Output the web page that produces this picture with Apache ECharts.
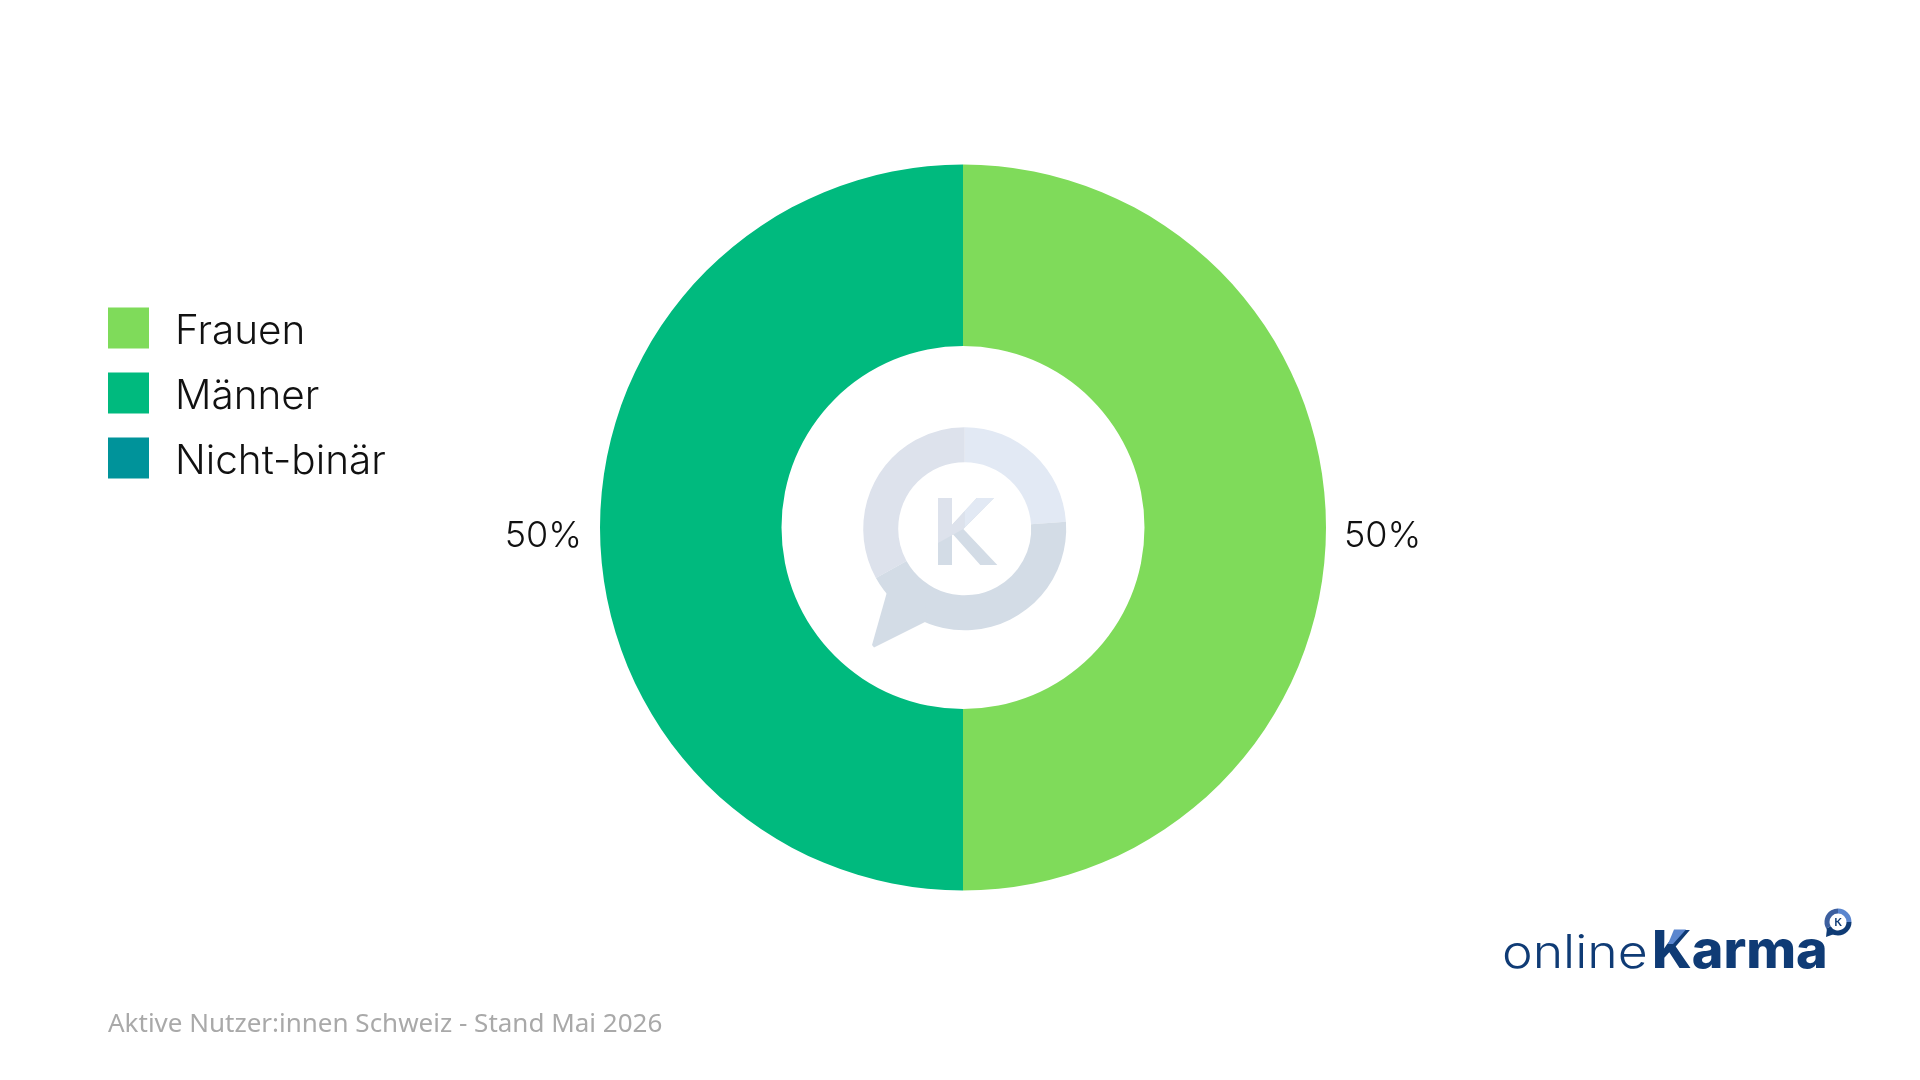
<!DOCTYPE html>
<html><head><meta charset="utf-8">
<style>html,body{margin:0;padding:0;background:#fff}#c{width:1920px;height:1080px}</style>
<script src="https://cdn.jsdelivr.net/npm/echarts@6/dist/echarts.min.js"></script>
</head><body><div id="c"></div>
<script>
const categories = ['Frauen', 'Männer', 'Nicht-binär'];
const shares = [50, 50, 0];
const colors = ['#7FDB5A', '#00BA7E', '#00939A'];
const footnote = 'Aktive Nutzer:innen Schweiz - Stand Mai 2026';
const brandLight = 'online';
const brandBold = 'Karma';

const chart = echarts.init(document.getElementById('c'), null, {renderer: 'canvas'});
const rad = d => d * Math.PI / 180;
const C1 = '#E2E9F4', C2 = '#DDE2EC', C3 = '#D3DCE6';
const wx = 964.7, wy = 528.8;
const cx = 963, cy = 527.5;
function sec(cx, cy, r0, r, a, b, fill) {
  return {type: 'sector', shape: {cx, cy, r0, r, startAngle: rad(a), endAngle: rad(b)}, style: {fill}, silent: true};
}
function poly(points, fill) {
  return {type: 'polygon', shape: {points}, style: {fill}, silent: true};
}
const watermark = [
  sec(wx, wy, 66.5, 101.5, -90, -4, C1),
  sec(wx, wy, 66.5, 101.5, 151, 270, C2),
  sec(wx, wy, 66.5, 101.5, -4, 151, C3),
  poly([[887, 592], [872, 645], [874, 647.5], [927, 621], [925, 600], [900, 580]], C3),
  poly([[938, 498], [952, 498], [952, 525], [976.7, 498], [994, 498], [963.3, 529], [997.3, 565], [980.3, 565], [952, 533.3], [952, 565], [938, 565]], C3),
  poly([[938, 498], [952, 498], [952, 525], [964.7, 511.1], [964.7, 527.6], [963.3, 529], [938, 543]], C2),
  poly([[964.7, 511.1], [976.7, 498], [994, 498], [964.7, 527.6]], C1)
];
const N = '#0F3B75';
const sx = 1838, sy = 922;
const smallLogo = [
  sec(sx, sy, 8.5, 13.5, 0, 150, N),
  sec(sx, sy, 8.5, 13.5, 150, 270, '#3D5F9E'),
  sec(sx, sy, 8.5, 13.5, -90, 0, '#5A86CF'),
  poly([[1827, 928], [1826, 937], [1837, 933]], N),
  {type: 'text', style: {x: sx, y: sy, text: 'K', fill: N, font: '700 11px Lato', textAlign: 'center', textVerticalAlign: 'middle'}, silent: true}
];
const wordmark = [
  {type: 'text', x: 1502, y: 977, scaleX: 1.125, style: {x: 0, y: 0, text: brandLight, fill: N, font: '300 46px Inter', textAlign: 'left', textVerticalAlign: 'bottom'}, silent: true},
  {type: 'text', x: 1652, y: 978, scaleX: 1.035, style: {x: 0, y: 0, text: brandBold, fill: N, font: '800 52px Inter', textAlign: 'left', textVerticalAlign: 'bottom'}, silent: true},
  poly([[1674, 929.5], [1686, 929.5], [1673, 944], [1668, 944]], '#5A86CF')
];

chart.setOption({
  animation: false,
  backgroundColor: '#fff',
  color: colors,
  title: {text: footnote, left: 103, top: 1007, textStyle: {fontFamily: 'Noto Sans', fontWeight: 400, fontSize: 26, color: '#A9A9A9'}},
  legend: {
    orient: 'vertical', left: 103, top: 302.5, itemWidth: 41, itemHeight: 41, itemGap: 20,
    icon: 'rect', selectedMode: false,
    data: categories,
    formatter: '{t|{name}}',
    textStyle: {rich: {t: {fontFamily: 'Inter', fontWeight: 300, fontSize: 40.5, color: '#111', padding: [8, 0, 0, 21]}}}
  },
  graphic: {elements: watermark.concat(smallLogo, wordmark)},
  series: [{
    type: 'pie', center: [cx, cy], radius: [181.5, 363], startAngle: 90, clockwise: true,
    avoidLabelOverlap: false, silent: true,
    label: {show: true, position: 'outside', formatter: '{d}%', fontFamily: 'Inter', fontWeight: 300, fontSize: 36, color: '#111', distanceToLabelLine: 5},
    labelLine: {show: false, length: 13, length2: 0},
    labelLayout: {dy: 9},
    data: categories.map((name, i) => ({name, value: shares[i], label: {show: shares[i] > 0}, itemStyle: {color: colors[i]}}))
  }]
});
</script></body></html>
